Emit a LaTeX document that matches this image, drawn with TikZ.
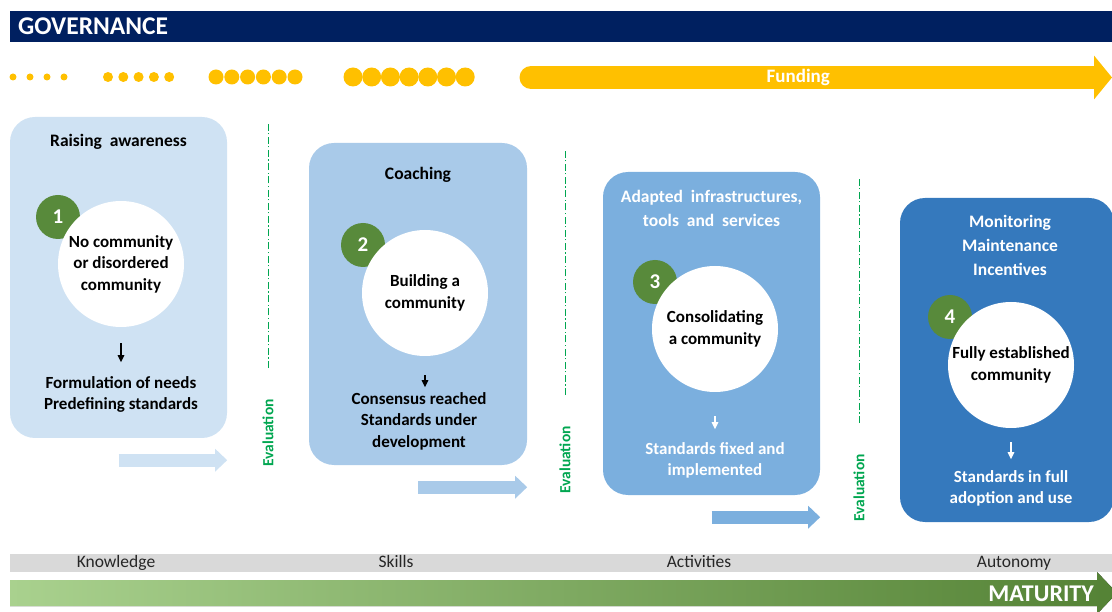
\documentclass[tikz,border=0pt]{standalone}
\usepackage{fontspec}
\setmainfont{Carlito}
\usetikzlibrary{positioning,arrows.meta}

\definecolor{govblue}{HTML}{002060}
\definecolor{fundyellow}{HTML}{FFC000}
\definecolor{badgegreen}{HTML}{588A3B}
\definecolor{evalgreen}{HTML}{00A650}
\definecolor{stageone}{HTML}{CFE2F3}
\definecolor{stagetwo}{HTML}{A9CAE9}
\definecolor{stagethree}{HTML}{7BAFDE}
\definecolor{stagefour}{HTML}{3579BD}
\definecolor{levelgray}{HTML}{D9D9D9}
\definecolor{matlight}{HTML}{A9D18E}
\definecolor{matmid}{HTML}{7AB64C}
\definecolor{matdark}{HTML}{548235}

\tikzset{
  stagebox/.style={rectangle, rounded corners=25pt, minimum width=217pt, minimum height=322pt, inner sep=0pt},
  stagetitle/.style={font=\bfseries\fontsize{17.5}{24}\selectfont, align=center, inner sep=0pt},
  community/.style={circle, fill=white, minimum size=126pt, inner sep=0pt, align=center,
    font=\bfseries\fontsize{17}{21.5}\selectfont},
  badge/.style={circle, fill=badgegreen, minimum size=44pt, inner sep=0pt, text=white,
    font=\bfseries\fontsize{21}{21}\selectfont},
  outcome/.style={font=\bfseries\fontsize{17}{21.5}\selectfont, align=center, inner sep=0pt},
  stepdown/.style={-{Triangle[length=7pt,width=6.5pt]}, line width=1.4pt},
  flow/.style={line width=13pt, -{Triangle[length=12pt,width=22pt]}},
  evalline/.style={evalgreen, line width=0.8pt, dash pattern=on 7pt off 2.5pt on 1.2pt off 2.5pt},
  evaltext/.style={rotate=90, text=evalgreen, font=\bfseries\fontsize{15.5}{15.5}\selectfont, inner sep=0pt},
  dot/.style={circle, fill=fundyellow, inner sep=0pt},
  level/.style={font=\fontsize{17.5}{17.5}\selectfont, text=black!85, inner sep=0pt, anchor=base},
}

\begin{document}
\begin{tikzpicture}[x=1pt, y=-1pt]
    \useasboundingbox (0,0) rectangle (1112,612);

    % governance bar
    \node[fill=govblue, minimum width=1102pt, minimum height=31pt, inner sep=0pt, anchor=north west] (govbar) at (10,11) {};
    \node[anchor=west, inner sep=0pt, text=white, font=\bfseries\fontsize{25.5}{25.5}\selectfont] (gov) at ([xshift=8pt]govbar.west) {GOVERNANCE};

    % growing dots, then the funding arrow
    \foreach \r/\x/\d/\n [count=\g] in {3.5/13/17/4, 5/108/15.3/5, 7.5/216/15.8/6, 9.5/353/18.7/7}{
        \foreach \i in {1,...,\n}
            \node[dot, minimum size=\r*2pt] (dot\g-\i) at ({\x+\d*(\i-1)}, 77) {};
    }
    \coordinate (fundstart) at (531,77.5);
    \coordinate (fundend) at (1112,77.5);
    \draw[fundyellow, line width=23pt, line cap=round, -{Triangle[length=18pt,width=43pt]}] (fundstart) -- (fundend)
        node[pos=0.46, text=white, font=\bfseries\fontsize{19}{19}\selectfont] (funding) {Funding};

    % the four stages
    \node[stagebox, fill=stageone, minimum height=321pt] (stage1) at (118.5,277.5) {};
    \node[stagebox, fill=stagetwo, minimum width=218pt] (stage2) at (418,304) {};
    \node[stagebox, fill=stagethree, minimum height=323pt] (stage3) at (711.5,333.5) {};
    \node[stagebox, fill=stagefour, minimum width=214pt, minimum height=324pt] (stage4) at (1007,360) {};

    \node[stagetitle, below=17pt of stage1.north] (title1) {Raising\ \ awareness};
    \node[stagetitle, below=24pt of stage2.north] (title2) {Coaching};
    \node[stagetitle, text=white, below=18pt of stage3.north] (title3) {Adapted\ \ infrastructures,\\tools\ \ and\ \ services};
    \node[stagetitle, text=white, below=17pt of stage4.north, xshift=3pt] (title4) {Monitoring\\Maintenance\\Incentives};

    % numbers sit behind the white circles
    \node[badge] (num1) at (58,217) {1};
    \node[badge] (num2) at (363,245) {2};
    \node[badge] (num3) at (655,282) {3};
    \node[badge] (num4) at (950,317) {4};

    \node[community] (comm1) at (121,264) {No community\\or disordered\\community};
    \node[community] (comm2) at (425,293) {Building a\\community};
    \node[community] (comm3) at (715,329) {Consolidating\\a community};
    \node[community] (comm4) at (1011,365) {Fully established\\community};

    \node[outcome, below=49pt of comm1] (out1) {Formulation of needs\\Predefining standards};
    \node[outcome, below=36pt of comm2, xshift=-6pt] (out2) {Consensus reached\\Standards under\\development};
    \node[outcome, text=white, below=50pt of comm3] (out3) {Standards fixed and\\implemented};
    \node[outcome, text=white, below=42pt of comm4] (out4) {Standards in full\\adoption and use};

    \draw[stepdown, shorten <=16pt, shorten >=14pt] (comm1.south) -- (comm1.south |- out1.north);
    \draw[stepdown, shorten <=19pt, shorten >=5pt] (comm2.south) -- (comm2.south |- out2.north);
    \draw[stepdown, white, shorten <=24pt, shorten >=13pt] (comm3.south) -- (comm3.south |- out3.north);
    \draw[stepdown, white, shorten <=14pt, shorten >=11pt] (comm4.south) -- (comm4.south |- out4.north);

    % arrows under the stages
    \foreach \k/\col in {1/stageone, 2/stagetwo, 3/stagethree}
        \draw[flow, \col] ([yshift=-22pt]stage\k.south) -- ([yshift=-22pt]stage\k.south east);

    % evaluation between stages
    \foreach \k/\x/\y in {1/268/433, 2/565/460, 3/859/488}{
        \node[evaltext] (eval\k) at (\x,\y) {Evaluation};
        \draw[evalline] (eval\k.east) ++(0,-31) -- ++(0,-247);
    }

    % levels and maturity
    \node[fill=levelgray, minimum width=1102pt, minimum height=18pt, inner sep=0pt, anchor=north west] (levels) at (10,554) {};
    \foreach \name/\x in {Knowledge/116, Skills/396, Activities/699, Autonomy/1014}
        \node[level] (lv-\name) at (\x, 567.5) {\name};
    \fill[left color=matlight, middle color=matmid, right color=matdark]
        (10,580) -- (1097,580) -- (1097,572) -- (1117,593) -- (1097,614) -- (1097,606) -- (10,606) -- cycle;
    \node[anchor=east, inner sep=0pt, text=white, font=\bfseries\fontsize{24}{24}\selectfont] (maturity) at (1094,594) {MATURITY};
\end{tikzpicture}
\end{document}
